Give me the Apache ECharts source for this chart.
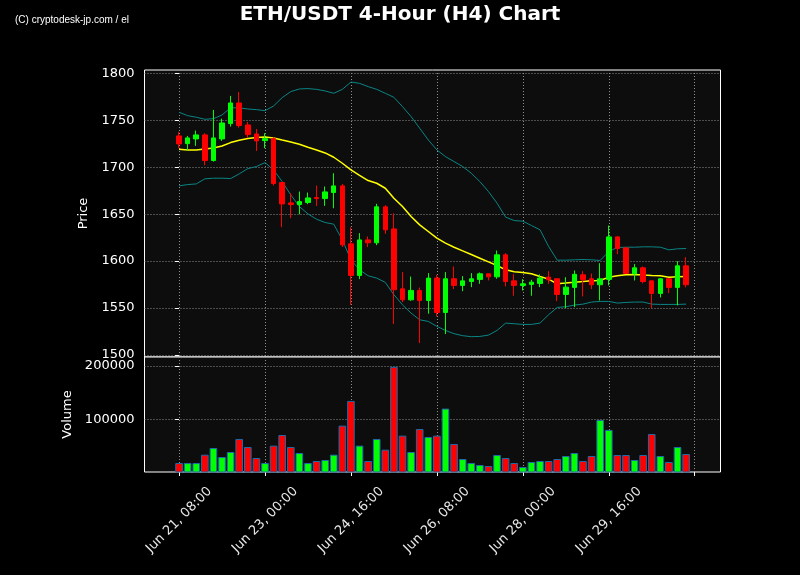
<!DOCTYPE html>
<html>
<head>
<meta charset="utf-8">
<script src="https://cdn.jsdelivr.net/npm/echarts@6/dist/echarts.min.js"></script>
<style>
html,body{margin:0;padding:0;background:#000;}
#c{width:800px;height:575px;}
</style>
</head>
<body>
<div id="c"></div>
<script>
// ---- data (4-hour candles, index 0 = Jun 21 08:00) ----
const opens  = [1733.3,1725.1,1730.1,1734.4,1707.1,1730.1,1746.4,1768.4,1745.0,1735.4,
                1728.3,1730.4,1683.7,1662.0,1660.2,1662.4,1667.7,1666.6,1673.0,1680.1,
                1618.4,1584.7,1622.6,1619.5,1657.8,1634.3,1570.5,1558.8,1568.8,1558.1,
                1581.9,1545.3,1581.2,1574.1,1578.3,1580.5,1586.5,1583.3,1606.7,1579.0,
                1574.1,1575.2,1576.2,1583.0,1581.2,1564.5,1572.0,1585.4,1581.2,1574.8,
                1580.5,1625.8,1614.1,1586.5,1592.9,1579.0,1565.6,1581.2,1572.0,1595.0];
const closes = [1724.8,1731.2,1734.4,1707.1,1731.2,1747.1,1768.4,1744.3,1734.7,1728.0,
                1730.4,1682.6,1660.9,1660.2,1663.4,1667.3,1666.6,1673.7,1680.1,1617.3,
                1584.7,1622.6,1619.5,1657.8,1633.3,1569.5,1558.8,1568.8,1558.1,1581.9,
                1545.3,1581.2,1574.1,1579.0,1581.2,1586.5,1583.3,1606.7,1578.3,1574.1,
                1575.8,1577.6,1581.9,1580.1,1564.5,1572.3,1585.9,1580.1,1574.8,1581.2,
                1625.8,1613.4,1586.8,1592.9,1578.3,1565.6,1581.2,1572.0,1595.0,1574.8];
const lows   = [1720.2,1717.7,1722.7,1702.1,1706.0,1728.0,1743.2,1742.1,1731.2,1717.3,
                1720.2,1680.5,1636.1,1645.7,1649.9,1660.6,1658.8,1658.8,1656.3,1615.0,
                1553.5,1580.8,1614.9,1617.0,1629.0,1532.9,1556.3,1557.8,1512.7,1544.0,
                1541.1,1522.3,1570.2,1568.0,1572.3,1575.8,1579.4,1581.2,1573.0,1563.1,
                1568.7,1563.1,1572.3,1575.8,1557.4,1550.0,1551.0,1562.4,1570.2,1558.1,
                1574.1,1607.4,1586.8,1579.4,1576.2,1550.0,1561.3,1565.9,1552.8,1572.0];
const highs  = [1737.6,1733.3,1739.0,1736.2,1761.0,1751.7,1775.9,1780.1,1748.2,1740.7,
                1736.2,1731.9,1683.7,1672.3,1674.1,1673.0,1680.5,1679.4,1693.6,1682.2,
                1636.1,1629.8,1626.2,1661.0,1659.5,1651.0,1588.3,1583.6,1571.9,1587.2,
                1585.4,1588.3,1594.3,1584.0,1587.2,1587.9,1586.5,1611.3,1608.5,1586.1,
                1580.8,1580.1,1585.8,1589.3,1581.2,1582.9,1590.0,1589.3,1586.8,1597.8,
                1637.9,1626.6,1614.1,1596.8,1594.3,1579.0,1581.9,1581.9,1600.0,1604.2];
const volumes = [19300,19300,19300,34800,47200,30500,39800,64000,49100,28600,
                 19300,51600,71400,49100,37900,19300,23000,24900,34800,88800,
                 134800,51600,23000,64000,44100,198100,70200,39800,82600,67700,
                 70200,120500,54700,26700,19300,15600,13700,34200,28600,19300,
                 11900,21200,23000,23000,26700,32300,37900,23000,32300,99400,
                 80800,34200,34200,24900,34200,73300,32300,21200,49100,36100];
const maMid = [1719.1,1718.4,1718.4,1719.5,1720.5,1722.6,1726.2,1728.7,1730.5,1731.5,
               1732.2,1731.2,1729.0,1726.9,1724.4,1721.2,1718.4,1715.2,1710.6,1704.2,
               1697.1,1691.4,1685.8,1682.9,1677.6,1667.0,1658.1,1647.5,1638.6,1631.5,
               1624.4,1619.1,1614.8,1610.9,1607.0,1603.1,1599.2,1595.3,1590.7,1588.6,
               1587.9,1586.5,1583.6,1580.8,1575.8,1576.6,1577.6,1578.3,1579.0,1579.4,
               1582.9,1584.4,1585.4,1585.8,1585.1,1584.7,1584.4,1582.9,1583.3,1583.6];
const bandUpper = [1758.5,1754.9,1753.2,1751.0,1751.7,1755.6,1763.4,1763.1,1762.0,1761.3,
                   1760.2,1765.2,1774.1,1780.5,1783.3,1783.7,1782.9,1781.2,1778.7,1782.9,
                   1790.7,1789.3,1785.8,1782.9,1778.7,1774.4,1764.5,1753.9,1741.5,1729.0,
                   1718.4,1711.3,1706.0,1700.7,1693.6,1684.7,1674.1,1661.7,1646.8,1643.2,
                   1642.5,1637.9,1633.3,1615.6,1601.0,1601.0,1601.4,1601.7,1601.4,1600.7,
                   1610.2,1614.5,1614.8,1614.8,1615.2,1615.2,1614.8,1612.0,1613.1,1613.4];
const bandLower = [1680.1,1681.5,1682.2,1687.6,1688.3,1688.3,1687.9,1692.9,1698.5,1700.7,
                   1704.9,1697.1,1684.7,1670.5,1658.1,1650.3,1644.6,1641.1,1639.3,1622.6,
                   1601.4,1590.7,1584.4,1581.9,1577.3,1564.2,1553.5,1544.6,1537.5,1535.8,
                   1530.5,1526.2,1522.7,1520.6,1519.5,1519.8,1521.2,1526.2,1534.0,1533.3,
                   1532.6,1532.6,1534.0,1542.9,1550.7,1551.4,1553.2,1554.2,1556.4,1557.1,
                   1557.1,1555.3,1556.0,1556.4,1556.4,1554.2,1553.9,1553.9,1553.9,1554.2];
const xTickPos    = [0,10,20,30,40,50,60];
const xTickLabels = ['Jun 21, 08:00','Jun 23, 00:00','Jun 24, 16:00','Jun 26, 08:00','Jun 28, 00:00','Jun 29, 16:00',''];
const priceTicks  = [1500,1550,1600,1650,1700,1750,1800];
const volumeTicks = [100000,200000];

// ---- build ----
const UP = '#00ff00', DOWN = '#ff0000';
const candleData = opens.map((o,i)=>[i,o,closes[i],lows[i],highs[i]]);
const volData = volumes.map((v,i)=>({value:[i,v], itemStyle:{color: closes[i]>=opens[i]?UP:DOWN}}));
const line = arr => arr.map((v,i)=>[i,v]);
const plain = v => String(Math.round(v));

const gridLine = {show:true, lineStyle:{color:'#8f8f8f', type:[1,2], width:1}};
const FONT = 'DejaVu Sans';
const chart = echarts.init(document.getElementById('c'), null, {renderer:'canvas'});
chart.setOption({
  backgroundColor:'#000000',
  animation:false,
  title:{text:'ETH/USDT 4-Hour (H4) Chart', left:'center', top:0,
         textStyle:{color:'#ffffff', fontFamily:FONT, fontWeight:'bold', fontSize:20}},
  graphic:[{type:'text', left:15, top:15,
            style:{text:'(C) cryptodesk-jp.com / el', fill:'#ffffff', font:'10px "Liberation Sans Narrow", sans-serif'}}],
  grid:[
    {left:144.5, top:70, width:576, height:287, show:true, backgroundColor:'#0d0d0d', borderColor:'#ffffff', borderWidth:1},
    {left:144.5, top:357, width:576, height:115, show:true, backgroundColor:'#0d0d0d', borderColor:'#ffffff', borderWidth:1}
  ],
  xAxis:[
    {type:'value', gridIndex:0, min:-4.02, max:63.0,
     axisLine:{show:false}, axisTick:{show:false, customValues:xTickPos},
     axisLabel:{show:false, customValues:xTickPos}, splitLine:gridLine},
    {type:'value', gridIndex:1, min:-4.02, max:63.0,
     axisLine:{show:false},
     axisTick:{show:true, length:4, inside:false, customValues:xTickPos, lineStyle:{color:'#ffffff'}},
     axisLabel:{show:true, customValues:xTickPos.slice(0,6), rotate:45, align:'center', verticalAlign:'middle',
                margin:48, color:'#e8e8e8', fontFamily:FONT, fontSize:13,
                formatter:v=>xTickLabels[xTickPos.indexOf(Math.round(v))]},
     splitLine:gridLine}
  ],
  yAxis:[
    {type:'value', gridIndex:0, min:1497.9, max:1803.5, name:'Price', nameLocation:'middle', nameGap:38,
     nameTextStyle:{color:'#ffffff', fontFamily:FONT, fontSize:13},
     axisLine:{show:false},
     axisTick:{show:true, length:4, customValues:priceTicks, lineStyle:{color:'#ffffff'}},
     axisLabel:{customValues:priceTicks, margin:10, color:'#ffffff', fontFamily:FONT, fontSize:13, formatter:plain},
     splitLine:gridLine},
    {type:'value', gridIndex:1, min:2600, max:216400, name:'Volume', nameLocation:'middle', nameGap:62,
     nameTextStyle:{color:'#ffffff', fontFamily:FONT, fontSize:13},
     axisLine:{show:false},
     axisTick:{show:true, length:4, customValues:volumeTicks, lineStyle:{color:'#ffffff'}},
     axisLabel:{customValues:volumeTicks, margin:10, color:'#ffffff', fontFamily:FONT, fontSize:13, formatter:plain},
     splitLine:gridLine}
  ],
  series:[
    {type:'line', xAxisIndex:0, yAxisIndex:0, data:line(bandUpper), showSymbol:false, z:2,
     lineStyle:{color:'#0a8585', width:1}},
    {type:'line', xAxisIndex:0, yAxisIndex:0, data:line(bandLower), showSymbol:false, z:2,
     lineStyle:{color:'#0a8585', width:1}},
    {type:'line', xAxisIndex:0, yAxisIndex:0, data:line(maMid), showSymbol:false, z:3,
     lineStyle:{color:'#ffff00', width:1.5}},
    {type:'candlestick', xAxisIndex:0, yAxisIndex:0, data:candleData, z:4,
     encode:{x:0, y:[1,2,3,4]}, barWidth:5,
     itemStyle:{color:UP, color0:DOWN, borderColor:UP, borderColor0:DOWN, borderWidth:1}},
    {type:'bar', xAxisIndex:1, yAxisIndex:1, data:volData, barWidth:7.6,
     itemStyle:{borderColor:'#1f6aa8', borderWidth:1}}
  ]
});
</script>
</body>
</html>
